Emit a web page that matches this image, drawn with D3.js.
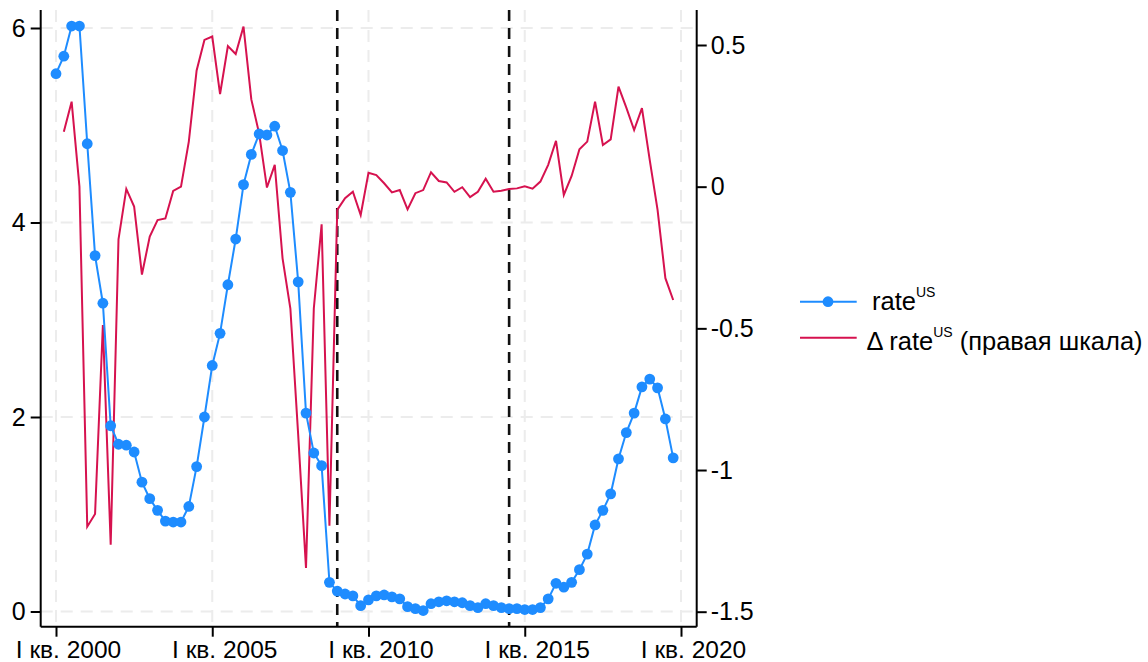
<!DOCTYPE html>
<html>
<head>
<meta charset="utf-8">
<script src="https://cdn.jsdelivr.net/npm/d3@7"></script>
<style>
  html, body { margin: 0; padding: 0; background: #fff; }
  svg { display: block; font-family: "Liberation Sans", Arial, sans-serif; }
</style>
</head>
<body>
<svg id="chart" width="1148" height="662"></svg>
<script>
// ---- data ----
const startYear = 2000; // first quarter: I кв. 2000
const rate = [5.53, 5.71, 6.02, 6.02, 4.81, 3.66, 3.17, 1.91, 1.72, 1.71,
              1.64, 1.33, 1.16, 1.04, 0.93, 0.92, 0.92, 1.08, 1.49, 2.00,
              2.53, 2.86, 3.36, 3.83, 4.39, 4.70, 4.91, 4.90, 4.99, 4.74,
              4.31, 3.39, 2.04, 1.63, 1.50, 0.30, 0.21, 0.18, 0.16, 0.06,
              0.12, 0.16, 0.17, 0.15, 0.13, 0.05, 0.03, 0.01, 0.08, 0.10,
              0.11, 0.10, 0.09, 0.06, 0.04, 0.08, 0.06, 0.04, 0.03, 0.03,
              0.02, 0.02, 0.04, 0.13, 0.29, 0.25, 0.30, 0.43, 0.59, 0.89,
              1.04, 1.21, 1.57, 1.84, 2.04, 2.31, 2.39, 2.30, 1.98, 1.58];
const dRate = [null, 0.194, 0.30, 0.00, -1.20, -1.155, -0.488, -1.264, -0.186, -0.008,
               -0.07, -0.31, -0.176, -0.118, -0.112, -0.015, 0.00, 0.159, 0.41, 0.518,
               0.53, 0.327, 0.496, 0.468, 0.565, 0.308, 0.188, -0.003, 0.077, -0.253,
               -0.43, -0.876, -1.346, -0.43, -0.133, -1.197, -0.082, -0.041, -0.018, -0.10,
               0.049, 0.041, 0.012, -0.02, -0.012, -0.08, -0.023, -0.012, 0.051, 0.02,
               0.015, -0.018, -0.002, -0.037, -0.018, 0.028, -0.018, -0.014, -0.008, -0.006,
               0.001, -0.007, 0.018, 0.077, 0.162, -0.029, 0.038, 0.132, 0.159, 0.30,
               0.147, 0.167, 0.353, 0.279, 0.20, 0.277, 0.094, -0.082, -0.323, -0.40];
const xTickYears = [2000, 2005, 2010, 2015, 2020];
const xTickLabels = ["I кв. 2000", "I кв. 2005", "I кв. 2010", "I кв. 2015", "I кв. 2020"];
const leftTicks = [0, 2, 4, 6];
const rightTicks = [-1.5, -1, -0.5, 0, 0.5];
const rightTickLabels = ["-1.5", "-1", "-0.5", "0", "0.5"];
const breakDates = [2009.0, 2014.5]; // I кв. 2009, III кв. 2014
const seriesNames = ["rate", "Δ rate"];

// ---- layout ----
const FONT = "Liberation Sans, Arial, sans-serif";
const FS = 25;
const svg = d3.select("#chart");
const plot = { left: 40.7, right: 696.7, top: 10, bottom: 626.7 };
const x = d3.scaleLinear().domain([2000, 2020]).range([56, 681]);
const yL = d3.scaleLinear().domain([0, 6]).range([611.5, 28]);
const yR = d3.scaleLinear().domain([-1.5, 0.5]).range([611.7, 45]);
const tq = i => startYear + i / 4;

const blue = "#1e8cff";
const red = "#d6124f";

// grid
const grid = svg.append("g");
grid.selectAll("line.h").data(leftTicks).join("line")
  .attr("x1", plot.left).attr("x2", plot.right)
  .attr("y1", d => yL(d)).attr("y2", d => yL(d))
  .attr("stroke", "#ececec").attr("stroke-width", 2).attr("stroke-dasharray", "12,8");
grid.selectAll("line.v").data(xTickYears).join("line")
  .attr("x1", d => x(d)).attr("x2", d => x(d))
  .attr("y1", plot.top).attr("y2", plot.bottom)
  .attr("stroke", "#ececec").attr("stroke-width", 2).attr("stroke-dasharray", "12,8");

// break lines
svg.append("g").selectAll("line").data(breakDates).join("line")
  .attr("x1", d => x(d)).attr("x2", d => x(d))
  .attr("y1", plot.top).attr("y2", plot.bottom)
  .attr("stroke", "#111").attr("stroke-width", 2.6).attr("stroke-dasharray", "11,7");

// red line (right axis)
const redLine = d3.line()
  .defined(d => d != null)
  .x((d, i) => x(tq(i)))
  .y(d => yR(d));
svg.append("path").datum(dRate)
  .attr("d", redLine).attr("fill", "none")
  .attr("stroke", red).attr("stroke-width", 2);

// blue line with markers
const blueLine = d3.line().x((d, i) => x(tq(i))).y(d => yL(d));
svg.append("path").datum(rate)
  .attr("d", blueLine).attr("fill", "none")
  .attr("stroke", blue).attr("stroke-width", 2);
svg.append("g").selectAll("circle").data(rate).join("circle")
  .attr("cx", (d, i) => x(tq(i))).attr("cy", d => yL(d))
  .attr("r", 5.4).attr("fill", blue);

function styleText(g, fs) {
  g.selectAll(".tick text").attr("font-size", fs).attr("font-family", FONT).attr("fill", "#000");
  g.selectAll(".tick line").attr("stroke-width", 2);
  g.select(".domain").attr("stroke-width", 2);
}
// left
const leftAxis = d3.axisLeft(yL).tickValues(leftTicks).tickSize(10).tickPadding(5).tickFormat(d3.format("d"));
svg.append("g").attr("transform", `translate(${plot.left},0)`).call(leftAxis)
  .call(g => g.select(".domain").attr("d", `M0,${plot.top}V${plot.bottom}`))
  .call(g => styleText(g, FS));
// right
const rightAxis = d3.axisRight(yR).tickValues(rightTicks).tickSize(10).tickPadding(4)
  .tickFormat((d, i) => rightTickLabels[i]);
svg.append("g").attr("transform", `translate(${plot.right},0)`).call(rightAxis)
  .call(g => g.select(".domain").attr("d", `M0,${plot.top}V${plot.bottom}`))
  .call(g => styleText(g, FS));
// bottom
const bottomAxis = d3.axisBottom(x).tickValues(xTickYears).tickSize(10).tickPadding(4)
  .tickFormat((d, i) => xTickLabels[i]);
svg.append("g").attr("transform", `translate(0,${plot.bottom})`).call(bottomAxis)
  .call(g => g.select(".domain").attr("d", `M${plot.left},0H${plot.right}`))
  .call(g => styleText(g, 24.5))
  .call(g => g.selectAll(".tick text").attr("dx", 12));

// legend
const LFS = 25.5;
const leg = svg.append("g").attr("font-size", LFS).attr("font-family", FONT);
const lx0 = 800, lx1 = 856.7, ly1 = 301.7, ly2 = 337.7;
leg.append("line").attr("x1", lx0).attr("x2", lx1).attr("y1", ly1).attr("y2", ly1)
  .attr("stroke", blue).attr("stroke-width", 2);
leg.append("circle").attr("cx", 828).attr("cy", ly1).attr("r", 5.4).attr("fill", blue);
leg.append("line").attr("x1", lx0).attr("x2", lx1).attr("y1", ly2).attr("y2", ly2)
  .attr("stroke", red).attr("stroke-width", 2);
const t1 = leg.append("text").attr("x", 872).attr("y", 310);
t1.append("tspan").text(seriesNames[0]);
t1.append("tspan").attr("font-size", 14).attr("dy", -13).text("US");
const t2 = leg.append("text").attr("x", 866.5).attr("y", 350);
t2.append("tspan").text(seriesNames[1]);
t2.append("tspan").attr("font-size", 14).attr("dy", -13).text("US");
t2.append("tspan").attr("dy", 13).text(" (правая шкала)");
</script>
</body>
</html>
